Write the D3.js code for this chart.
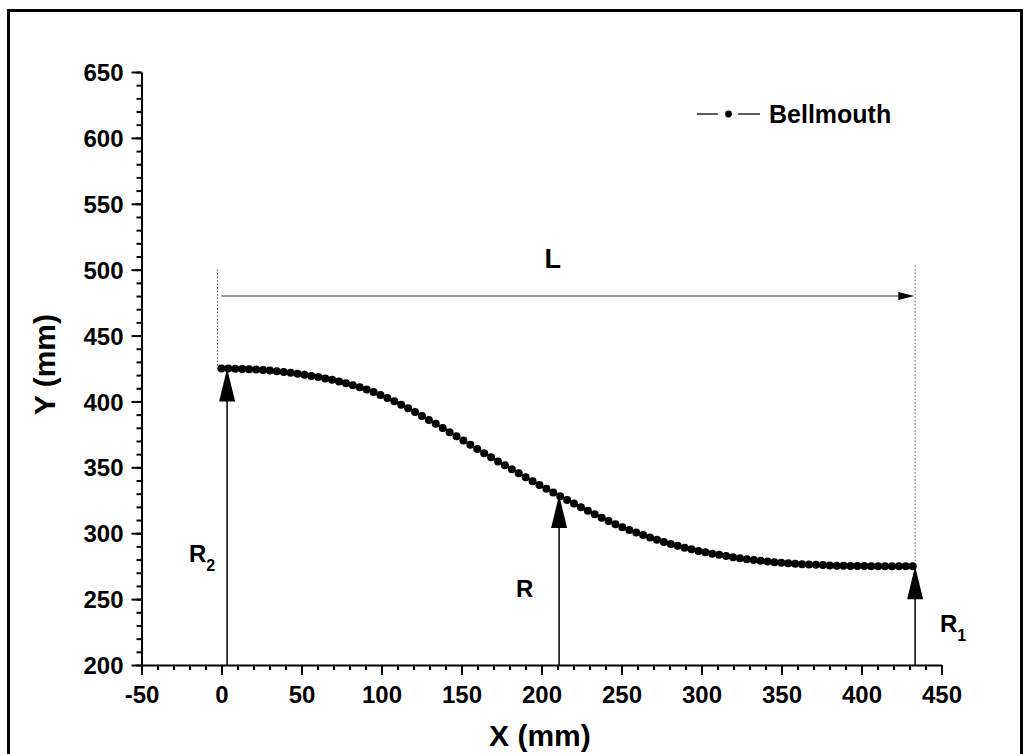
<!DOCTYPE html>
<html><head><meta charset="utf-8">
<script src="https://cdn.jsdelivr.net/npm/d3@7"></script>
<style>html,body{margin:0;padding:0;background:#fff;}svg{display:block;font-family:"Liberation Sans",Arial,sans-serif;}</style>
</head><body>
<svg id="chart" width="1032" height="754"></svg>
<script>
// ---- data ----
const xValues = [0,4.32,8.64,12.96,17.28,21.6,25.92,30.24,34.56,38.88,43.2,47.52,51.84,56.16,60.48,64.8,69.12,73.44,77.76,82.08,86.4,90.72,95.04,99.36,103.68,108,112.32,116.64,120.96,125.28,129.6,133.92,138.24,142.56,146.88,151.2,155.52,159.84,164.16,168.48,172.8,177.12,181.44,185.76,190.08,194.4,198.72,203.04,207.36,211.68,216,220.32,224.64,228.96,233.28,237.6,241.92,246.24,250.56,254.88,259.2,263.52,267.84,272.16,276.48,280.8,285.12,289.44,293.76,298.08,302.4,306.72,311.04,315.36,319.68,324,328.32,332.64,336.96,341.28,345.6,349.92,354.24,358.56,362.88,367.2,371.52,375.84,380.16,384.48,388.8,393.12,397.44,401.76,406.08,410.4,414.72,419.04,423.36,427.68,432];
const yValues = [425.0,425.0,424.9,424.7,424.5,424.3,
423.9,423.5,423.0,422.4,421.7,
421.0,420.2,419.4,418.5,417.5,
416.4,415.1,413.8,412.3,410.8,
409.0,407.1,404.9,402.6,400.1,
397.5,394.8,391.9,389.0,386.0,
383.0,379.9,376.7,373.5,370.3,
367.1,363.9,360.7,357.6,354.5,
351.5,348.5,345.5,342.5,339.5,
336.6,333.7,330.9,328.1,325.3,
322.5,319.7,317.0,314.4,311.8,
309.3,306.9,304.6,302.5,300.5,
298.6,296.8,295.1,293.4,291.8,
290.4,289.0,287.8,286.6,285.5,
284.5,283.6,282.7,281.8,281.0,
280.3,279.7,279.1,278.5,278.0,
277.6,277.2,276.8,276.5,276.2,
276.0,275.8,275.6,275.4,275.3,
275.2,275.1,275.1,275.0,275.0,
275.0,275.0,275.0,275.0,275.0];
const seriesName = "Bellmouth";
const xTicks = [-50,0,50,100,150,200,250,300,350,400,450];
const yTicks = [200,250,300,350,400,450,500,550,600,650];
const xMinorTicks = d3.range(-50, 451, 10);
const yMinorTicks = d3.range(200, 651, 10);
const xTitle = "X (mm)";
const yTitle = "Y (mm)";
// annotation arrows (data units): vertical radius arrows
const radiusArrowX = [3.5, 211, 433.5];
const radiusArrowTop = [425, 329, 275];
const radiusLabels = [["R","2"],["R",""],["R","1"]];
// length arrow and guide lines (data units)
const lengthArrow = {x0: 0, x1: 433, y: 480, label: "L"};
const guideX = [-2.5, 433.5];
const guideTop = [500, 503];
const guideBottom = [425, 275];

// ---- layout ----
const svg = d3.select("#chart");
const x = d3.scaleLinear().domain([-50, 450]).range([141.5, 941.5]);
const y = d3.scaleLinear().domain([200, 650]).range([665, 72]);

// frame border
svg.append("rect").attr("x", 8.5).attr("y", 10.5).attr("width", 1013).attr("height", 760)
  .attr("fill", "none").attr("stroke", "#000").attr("stroke-width", 3);

const fontSize = 24;

// minor ticks
svg.append("g").attr("transform", `translate(0,${y(200)})`)
  .call(d3.axisBottom(x).tickValues(xMinorTicks).tickSize(5).tickFormat(""))
  .call(g => g.select(".domain").remove())
  .call(g => g.selectAll("line").attr("stroke-width", 2));
svg.append("g").attr("transform", `translate(${x(-50)},0)`)
  .call(d3.axisLeft(y).tickValues(yMinorTicks).tickSize(5).tickFormat(""))
  .call(g => g.select(".domain").remove())
  .call(g => g.selectAll("line").attr("stroke-width", 2));

// major axes
const xAxis = svg.append("g").attr("transform", `translate(0,${y(200)})`)
  .call(d3.axisBottom(x).tickValues(xTicks).tickSize(10).tickSizeOuter(0).tickPadding(11).tickFormat(d3.format("d")));
const yAxis = svg.append("g").attr("transform", `translate(${x(-50)},0)`)
  .call(d3.axisLeft(y).tickValues(yTicks).tickSize(10).tickSizeOuter(0).tickPadding(8).tickFormat(d3.format("d")));
[xAxis, yAxis].forEach(g => {
  g.select(".domain").attr("stroke-width", 2);
  g.selectAll(".tick line").attr("stroke-width", 2);
  g.selectAll("text").attr("font-size", fontSize).attr("font-weight", "bold")
    .attr("font-family", '"Liberation Sans",Arial,sans-serif').attr("fill", "#000");
});
xAxis.selectAll("text").text(d => String(d));
yAxis.selectAll("text").attr("dy", "0.36em");

// axis titles
svg.append("text").attr("x", x(199)).attr("y", 746).attr("text-anchor", "middle")
  .attr("font-size", 30).attr("font-weight", "bold").text(xTitle);
svg.append("text").attr("transform", `translate(55,${y(428)}) rotate(-90)`).attr("text-anchor", "middle")
  .attr("font-size", 30).attr("font-weight", "bold").text(yTitle);

// guide dotted lines
guideX.forEach((gx, i) => {
  svg.append("line").attr("x1", x(gx)).attr("x2", x(gx)).attr("y1", y(guideTop[i])).attr("y2", y(guideBottom[i]))
    .attr("stroke", "#555").attr("stroke-width", 1).attr("stroke-dasharray", "1.5,2");
});

// length arrow
svg.append("line").attr("x1", x(lengthArrow.x0)).attr("x2", x(lengthArrow.x1) - 12)
  .attr("y1", y(lengthArrow.y)).attr("y2", y(lengthArrow.y)).attr("stroke", "#333").attr("stroke-width", 1.2);
{
  const tx = x(lengthArrow.x1), ty = y(lengthArrow.y);
  svg.append("path").attr("d", `M${tx},${ty} L${tx-16},${ty-4} L${tx-16},${ty+4} Z`).attr("fill", "#000");
}
svg.append("text").attr("x", x(207)).attr("y", 268)
  .attr("text-anchor", "middle").attr("font-size", 27).attr("font-weight", "bold").text(lengthArrow.label);

// data line and dots
const pts = xValues.map((v, i) => [v, yValues[i]]);
svg.append("path").datum(pts)
  .attr("d", d3.line().x(d => x(d[0])).y(d => y(d[1])))
  .attr("fill", "none").attr("stroke", "#000").attr("stroke-width", 1.5);
svg.append("g").selectAll("circle").data(pts).join("circle")
  .attr("cx", d => x(d[0])).attr("cy", d => y(d[1])).attr("r", 4).attr("fill", "#000");

// radius arrows
radiusArrowX.forEach((ax, i) => {
  const px = x(ax), top = y(radiusArrowTop[i]), bot = y(200);
  svg.append("line").attr("x1", px).attr("x2", px).attr("y1", top + 20).attr("y2", bot)
    .attr("stroke", "#000").attr("stroke-width", 1.5);
  svg.append("path").attr("d", `M${px},${top} L${px-8},${top+33} L${px+8},${top+33} Z`).attr("fill", "#000");
});
const labelPos = [[189, 562], [516, 597], [940, 632]];
radiusLabels.forEach((lab, i) => {
  const t = svg.append("text").attr("x", labelPos[i][0]).attr("y", labelPos[i][1])
    .attr("font-size", 24).attr("font-weight", "bold");
  t.append("tspan").text(lab[0]);
  if (lab[1]) t.append("tspan").attr("font-size", 16).attr("dy", 9).text(lab[1]);
});

// legend
const lg = svg.append("g");
lg.append("line").attr("x1", 697).attr("x2", 718).attr("y1", 114).attr("y2", 114).attr("stroke", "#000").attr("stroke-width", 1.3);
lg.append("line").attr("x1", 738).attr("x2", 760).attr("y1", 114).attr("y2", 114).attr("stroke", "#000").attr("stroke-width", 1.3);
lg.append("circle").attr("cx", 728.5).attr("cy", 114).attr("r", 3.4).attr("fill", "#000");
lg.append("text").attr("x", 769).attr("y", 123).attr("font-size", 25).attr("font-weight", "bold").text(seriesName);
</script>
</body></html>
